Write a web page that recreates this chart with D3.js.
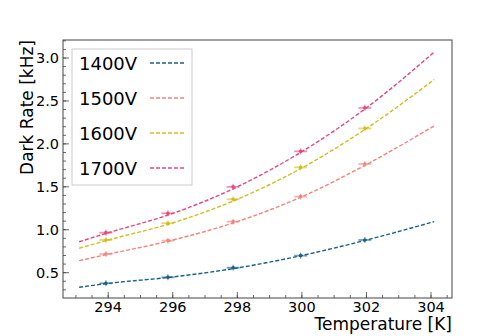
<!DOCTYPE html>
<meta charset="utf-8">
<style>
    body { margin: 0; background: #fff; }
    text { font-family: "DejaVu Sans", sans-serif; }
</style>
<svg width="503" height="336"></svg>
<script src="https://d3js.org/d3.v7.min.js"></script>
<script>

    // measured points (temperature in K, rate in kHz)
    var temps = [293.93, 295.85, 297.87, 299.96, 301.95];
    var rate1400 = [0.376, 0.446, 0.558, 0.698, 0.881];
    var rate1500 = [0.718, 0.873, 1.094, 1.386, 1.766];
    var rate1600 = [0.881, 1.076, 1.355, 1.726, 2.18];
    var rate1700 = [0.966, 1.192, 1.5, 1.913, 2.42];
    var xErr = [0.2, 0.2, 0.2, 0.2, 0.2];

    // fit curves
    var fitTemps = [293.1, 294, 296, 298, 300, 302, 304.1];
    var fit1400 = [0.33, 0.375, 0.45, 0.555, 0.70, 0.88, 1.095];
    var fit1500 = [0.64, 0.715, 0.88, 1.095, 1.385, 1.76, 2.21];
    var fit1600 = [0.785, 0.88, 1.08, 1.355, 1.72, 2.18, 2.75];
    var fit1700 = [0.86, 0.965, 1.19, 1.5, 1.91, 2.42, 3.07];

    var labels = ["1400V", "1500V", "1600V", "1700V"];
    var colors = ["#1b6088", "#f4837a", "#d2bd1e", "#e8487f"];
    var xTicks = [294, 296, 298, 300, 302, 304];
    var yTicks = [0.5, 1.0, 1.5, 2.0, 2.5, 3.0];

    var series = [
        { name: labels[0], color: colors[0], pts: rate1400, fit: fit1400 },
        { name: labels[1], color: colors[1], pts: rate1500, fit: fit1500 },
        { name: labels[2], color: colors[2], pts: rate1600, fit: fit1600 },
        { name: labels[3], color: colors[3], pts: rate1700, fit: fit1700 }
    ];

    var svg = d3.select("svg");
    var pLeft = 63, pRight = 452, pTop = 40, pBottom = 298;

    var x = d3.scaleLinear().domain([292.6, 304.65]).range([pLeft, pRight]);
    var y = d3.scaleLinear().domain([0.205, 3.21]).range([pBottom, pTop]);

    var g = svg.append("g");

    // minor + major ticks, pointing inwards
    var xMinor = d3.range(293, 304.66, 0.5);
    var yMinor = d3.range(3, 33).map(function (i) { return i / 10; });

    g.selectAll(".xminor").data(xMinor).enter().append("line")
        .attr("x1", function (d) { return x(d); }).attr("x2", function (d) { return x(d); })
        .attr("y1", pBottom).attr("y2", pBottom - 3)
        .attr("stroke", "#444").attr("stroke-width", 0.8);
    g.selectAll(".xmajor").data(xTicks).enter().append("line")
        .attr("x1", function (d) { return x(d); }).attr("x2", function (d) { return x(d); })
        .attr("y1", pBottom).attr("y2", pBottom - 6)
        .attr("stroke", "#444").attr("stroke-width", 0.8);
    g.selectAll(".yminor").data(yMinor).enter().append("line")
        .attr("y1", function (d) { return y(d); }).attr("y2", function (d) { return y(d); })
        .attr("x1", pLeft).attr("x2", pLeft + 3)
        .attr("stroke", "#444").attr("stroke-width", 0.8);
    g.selectAll(".ymajor").data(yTicks).enter().append("line")
        .attr("y1", function (d) { return y(d); }).attr("y2", function (d) { return y(d); })
        .attr("x1", pLeft).attr("x2", pLeft + 6)
        .attr("stroke", "#444").attr("stroke-width", 0.8);

    // tick labels
    g.selectAll(".xlab").data(xTicks).enter().append("text")
        .attr("x", function (d) { return x(d); }).attr("y", 312)
        .attr("text-anchor", "middle").attr("font-size", 14.5)
        .text(function (d) { return d; });
    g.selectAll(".ylab").data(yTicks).enter().append("text")
        .attr("x", pLeft - 4).attr("y", function (d) { return y(d) + 5; })
        .attr("text-anchor", "end").attr("font-size", 14.5)
        .text(function (d) { return d3.format(".1f")(d); });

    // frame
    g.append("rect")
        .attr("x", pLeft).attr("y", pTop)
        .attr("width", pRight - pLeft).attr("height", pBottom - pTop)
        .attr("fill", "none").attr("stroke", "#444").attr("stroke-width", 1);

    // axis titles
    svg.append("text")
        .attr("x", pRight).attr("y", 330)
        .attr("text-anchor", "end").attr("font-size", 17)
        .text("Temperature [K]");
    svg.append("text")
        .attr("transform", "translate(33," + pTop + ") rotate(-90)")
        .attr("text-anchor", "end").attr("font-size", 17)
        .text("Dark Rate [kHz]");

    var line = d3.line()
        .x(function (d) { return x(d[0]); })
        .y(function (d) { return y(d[1]); })
        .curve(d3.curveMonotoneX);

    series.forEach(function (s) {
        svg.append("path")
            .attr("d", line(fitTemps.map(function (t, i) { return [t, s.fit[i]]; })))
            .attr("fill", "none")
            .attr("stroke", s.color)
            .attr("stroke-width", 1.4)
            .attr("stroke-dasharray", "4,2");

        var pg = svg.append("g");
        pg.selectAll("line.xe").data(s.pts).enter().append("line")
            .attr("x1", function (d, i) { return x(temps[i] - xErr[i]); })
            .attr("x2", function (d, i) { return x(temps[i] + xErr[i]); })
            .attr("y1", function (d) { return y(d); })
            .attr("y2", function (d) { return y(d); })
            .attr("stroke", s.color).attr("stroke-width", 1.8).attr("opacity", 0.6);
        pg.selectAll("line.ye").data(s.pts).enter().append("line")
            .attr("x1", function (d, i) { return x(temps[i]); })
            .attr("x2", function (d, i) { return x(temps[i]); })
            .attr("y1", function (d) { return y(d) - 3; })
            .attr("y2", function (d) { return y(d) + 3; })
            .attr("stroke", s.color).attr("stroke-width", 1.2).attr("opacity", 0.6);
        pg.selectAll("circle").data(s.pts).enter().append("circle")
            .attr("cx", function (d, i) { return x(temps[i]); })
            .attr("cy", function (d) { return y(d); })
            .attr("r", 1.8)
            .attr("fill", s.color);
    });

    // legend
    var lg = svg.append("g");
    lg.append("rect")
        .attr("x", 72).attr("y", 49).attr("width", 120).attr("height", 136)
        .attr("fill", "#fff").attr("stroke", "#ccc").attr("stroke-width", 1);
    series.forEach(function (s, i) {
        var yy = 63 + i * 35;
        lg.append("text")
            .attr("x", 79).attr("y", yy + 7)
            .attr("font-size", 18)
            .text(s.name);
        lg.append("line")
            .attr("x1", 150).attr("x2", 186)
            .attr("y1", yy).attr("y2", yy)
            .attr("stroke", s.color).attr("stroke-width", 1.4)
            .attr("stroke-dasharray", "4,2");
    });

</script>
